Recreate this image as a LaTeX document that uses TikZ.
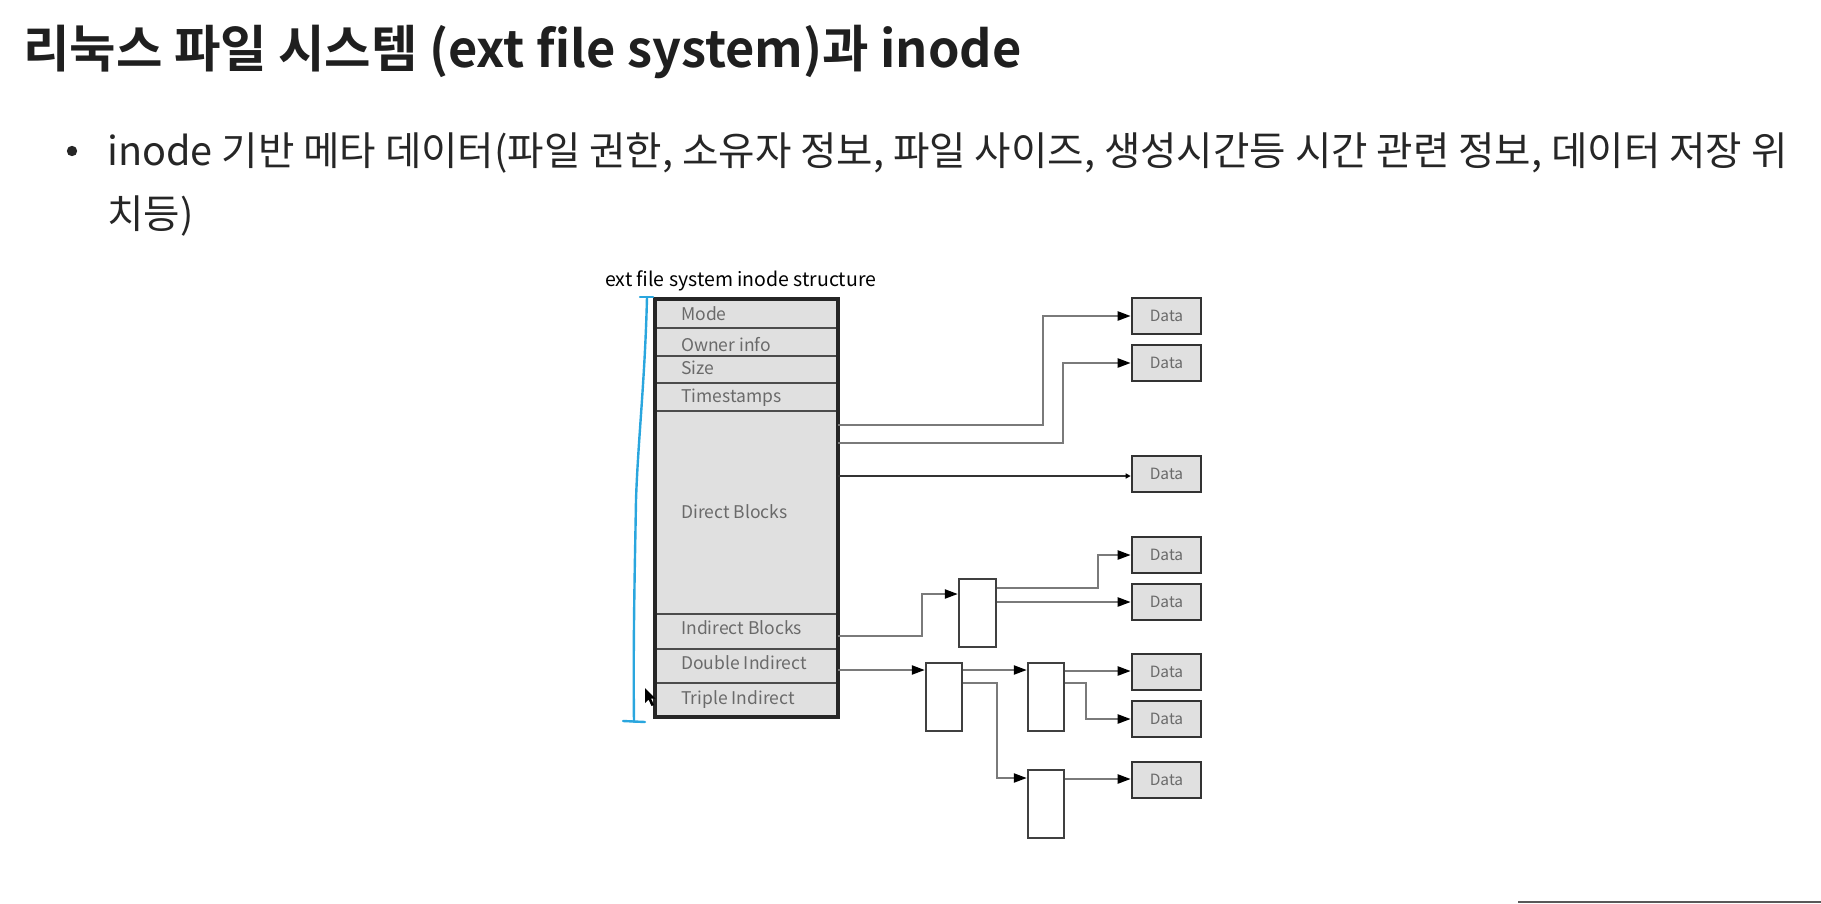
\documentclass[tikz,border=0pt]{standalone}
\usepackage{fontspec}
\setmainfont{Noto Sans CJK KR}
\newfontfamily\krbold{Noto Sans CJK KR Bold}
\newfontfamily\krfont{Noto Sans CJK KR}
\usetikzlibrary{arrows.meta,calc}
\definecolor{cellfill}{HTML}{E0E0E0}
\definecolor{txtgray}{HTML}{6A6A6A}
\definecolor{linegray}{HTML}{7A7A7A}
\definecolor{bluepen}{HTML}{2AA6DE}
\tikzset{
  cell/.style={draw=black!70, line width=2pt, fill=cellfill, minimum width=183pt, anchor=north west, inner sep=0pt, outer sep=0pt},
  celltext/.style={anchor=west, inner sep=0pt, text=txtgray, font=\krfont\fontsize{17.5}{19}\selectfont},
  databox/.style={draw=black!80, line width=2.6pt, fill=cellfill, minimum width=69pt, minimum height=36pt, inner sep=0pt, text=txtgray, font=\krfont\fontsize{15.5}{18}\selectfont},
  ptrbox/.style={draw=black!75, line width=2.4pt, fill=white, minimum width=36pt, minimum height=68pt, inner sep=0pt},
  conn/.style={draw=linegray, line width=2.2pt, -{Triangle[length=13pt,width=9pt,fill=black,color=black]}},
  connd/.style={draw=black!80, line width=1.8pt, -{Triangle[length=5pt,width=5pt,fill=black,color=black]}},
}
\begin{document}
\begin{tikzpicture}[x=1pt,y=-1pt]
\useasboundingbox (0,0) rectangle (1821,903);
% heading
\node[anchor=base west, inner sep=0pt, font=\krbold\fontsize{50.5}{58}\selectfont, text=black!88] (title) at (23,67) {리눅스 파일 시스템 (ext file system)과 inode};
\fill[black!85] (72,151) circle (5.2);
\node[anchor=base west, inner sep=0pt, font=\krfont\fontsize{39.6}{46}\selectfont, text=black!85] (line1) at (107,165) {inode 기반 메타 데이터(파일 권한, 소유자 정보, 파일 사이즈, 생성시간등 시간 관련 정보, 데이터 저장 위};
\node[anchor=base west, inner sep=0pt, font=\krfont\fontsize{39.6}{46}\selectfont, text=black!85] (line2) at (107,228) {치등)};
% caption
\node[anchor=west, inner sep=0pt, font=\krfont\fontsize{19.5}{22}\selectfont, text=black] (cap) at (605,281) {ext file system inode structure};
% inode cells
\node[cell, minimum height=29pt] (mode) at (655,299) {};
\node[cell, minimum height=28pt] (owner) at (655,328) {};
\node[cell, minimum height=27pt] (size) at (655,356) {};
\node[cell, minimum height=28pt] (times) at (655,383) {};
\node[cell, minimum height=203pt] (direct) at (655,411) {};
\node[cell, minimum height=35pt] (indirect) at (655,614) {};
\node[cell, minimum height=34pt] (double) at (655,649) {};
\node[cell, minimum height=34pt] (triple) at (655,683) {};
\draw[black!85, line width=3.4pt] (mode.north west) rectangle (triple.south east);
\node[celltext] (tmode) at (681,314) {Mode};
\node[celltext] (towner) at (681,345) {Owner info};
\node[celltext] (tsize) at (681,368) {Size};
\node[celltext] (ttimes) at (681,398) {Timestamps};
\node[celltext] (tdirect) at (681,512) {Direct Blocks};
\node[celltext] (tindirect) at (681,628) {Indirect Blocks};
\node[celltext] (tdouble) at (681,663) {Double Indirect};
\node[celltext] (ttriple) at (681,700) {Triple Indirect};
% data boxes
\node[databox] (data1) at (1166.5,316) {Data};
\node[databox] (data2) at (1166.5,363) {Data};
\node[databox] (data3) at (1166.5,474) {Data};
\node[databox] (data4) at (1166.5,555) {Data};
\node[databox] (data5) at (1166.5,602) {Data};
\node[databox] (data6) at (1166.5,672) {Data};
\node[databox] (data7) at (1166.5,719) {Data};
\node[databox] (data8) at (1166.5,780) {Data};
% pointer blocks
\node[ptrbox, minimum width=37pt] (ind1) at (977.5,613) {};
\node[ptrbox] (dbl1) at (944,697) {};
\node[ptrbox] (dbl2) at (1046,697) {};
\node[ptrbox] (dbl3) at (1046,804) {};
% connectors
\draw[conn] (direct.east |- 0,425) -| (1043,316) -- (data1.west);
\draw[conn] (direct.east |- 0,443) -| (1063,363) -- (data2.west);
\draw[connd] (direct.east |- 0,476) -- (data3.west |- 0,476);
\draw[conn] (indirect.east |- 0,636) -| (922,594) -- (ind1.west |- 0,594);
\draw[conn] (ind1.east |- 0,588) -| (1098,555) -- (data4.west);
\draw[conn] (ind1.east |- data5.west) -- (data5.west);
\draw[conn] (double.east |- 0,670) -- (dbl1.west |- 0,670);
\draw[conn] (dbl1.east |- 0,670) -- (dbl2.west |- 0,670);
\draw[conn] (dbl2.east |- 0,671) -- (data6.west |- 0,671);
\draw[conn] (dbl2.east |- 0,683) -| (1086,719) -- (data7.west);
\draw[conn] (dbl1.east |- 0,683) -| (997,778) -- (dbl3.west |- 0,778);
\draw[conn] (dbl3.east |- 0,779) -- (data8.west |- 0,779);
% hand-drawn blue bracket
\draw[bluepen, line width=2.4pt, line cap=round, line join=round] (640,297) -- (653,297);
\draw[bluepen, line width=2.4pt, line cap=round, line join=round] (647,297) .. controls (645,380) and (638,440) .. (636,500) .. controls (635,560) and (633,640) .. (634,722);
\draw[bluepen, line width=2.4pt, line cap=round] (623,721) -- (645,722);
% mouse pointer
\fill[black] (645,688) -- (645,703) -- (648.5,699.5) -- (651.5,706) -- (654,705) -- (651,698.5) -- (655.5,698.5) -- cycle;
% bottom rule
\draw[black!65, line width=2pt] (1518,902) -- (1821,902);
\end{tikzpicture}
\end{document}
